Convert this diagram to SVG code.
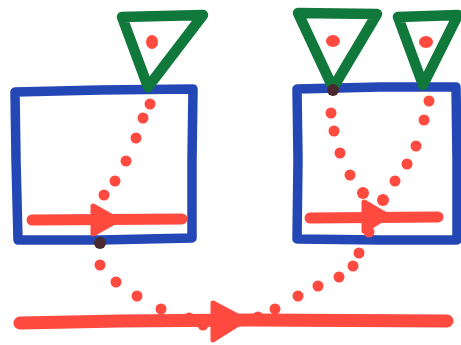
<svg xmlns="http://www.w3.org/2000/svg" width="461" height="345" viewBox="0 0 461 345">
<style>
.box{fill:none;stroke:#2447b6;stroke-width:9.5;stroke-linecap:round;stroke-linejoin:round}
.tri{fill:none;stroke:#10783a;stroke-width:10.5;stroke-linecap:round;stroke-linejoin:round}
.line{fill:none;stroke:#ff4a40;stroke-width:11;stroke-linecap:round}
.head{fill:#ff4a40;stroke:#ff4a40;stroke-width:5;stroke-linejoin:round}
.dot{fill:#ff4a40}
.dark{fill:#4a2a2e}
</style>
<rect width="461" height="345" fill="#ffffff"/>
<g id="box-left"><path class="box" d="M15,92 L100,90 L193,89 L192,160 L192,238 L100,240 L18,240 L16,160 Z"/></g>
<g id="box-right"><path class="box" d="M297,89 L380,87 L456,87 L457,160 L457,240 L380,240 L297,239 L298,160 Z"/></g>
<g id="tri-left"><path class="tri" d="M122,17 L203,15 L148,87 Z"/><ellipse class="dot" cx="152" cy="42" rx="6" ry="7"/></g>
<g id="tri-right-1"><path class="tri" d="M298,13 L377,14 L333,88 Z"/><ellipse class="dot" cx="333" cy="41" rx="7" ry="6"/></g>
<g id="tri-right-2"><path class="tri" d="M398,17 L458,15 L423,85 Z"/><ellipse class="dot" cx="426" cy="42" rx="7" ry="6"/></g>
<g id="connectors">
<path class="line" d="M32,220 L182,219"/>
<path class="head" d="M93,206 L93,234 L118,220 Z"/>
<path class="line" d="M310,218 L438,217"/>
<path class="head" d="M364,202 L364,231 L388,216 Z"/>
<path class="line" style="stroke-width:13" d="M20,323 L120,321 L250,320 L447,321"/>
<path class="head" d="M213,303 L213,340 L245,320 Z"/>
<g>
<circle class="dot" cx="150" cy="104" r="5.5"/>
<circle class="dot" cx="143" cy="118" r="5.5"/>
<circle class="dot" cx="136" cy="138" r="5.5"/>
<circle class="dot" cx="126" cy="161" r="5.5"/>
<circle class="dot" cx="115" cy="181" r="5.5"/>
<circle class="dot" cx="104" cy="195" r="5.5"/>
<circle class="dark" cx="100" cy="243" r="6"/>
<circle class="dot" cx="100" cy="265" r="5.5"/>
<circle class="dot" cx="116" cy="282" r="5.5"/>
<circle class="dot" cx="137" cy="296" r="5.5"/>
<circle class="dot" cx="161" cy="309" r="5.5"/>
<circle class="dot" cx="189" cy="318" r="5.5"/>
<circle class="dot" cx="203" cy="325" r="5.5"/>
<circle class="dark" cx="333" cy="90" r="6"/>
<circle class="dot" cx="331" cy="113" r="5.5"/>
<circle class="dot" cx="334" cy="131" r="5.5"/>
<circle class="dot" cx="340" cy="153" r="5.5"/>
<circle class="dot" cx="350" cy="175" r="5.5"/>
<circle class="dot" cx="363" cy="193" r="6"/>
<circle class="dot" cx="429" cy="101" r="5.5"/>
<circle class="dot" cx="424" cy="120" r="5.5"/>
<circle class="dot" cx="416" cy="146" r="5.5"/>
<circle class="dot" cx="407" cy="164" r="5.5"/>
<circle class="dot" cx="395" cy="181" r="5.5"/>
<circle class="dot" cx="383" cy="200" r="6"/>
<circle class="dot" cx="369" cy="232" r="5.5"/>
<circle class="dot" cx="359" cy="253" r="5.5"/>
<circle class="dot" cx="353" cy="266" r="5.5"/>
<circle class="dot" cx="339" cy="277" r="5.5"/>
<circle class="dot" cx="318" cy="286" r="5.5"/>
<circle class="dot" cx="298" cy="296" r="5.5"/>
<circle class="dot" cx="275" cy="309" r="5.5"/>
<circle class="dot" cx="258" cy="317" r="5.5"/>
</g>
</g>
</svg>
